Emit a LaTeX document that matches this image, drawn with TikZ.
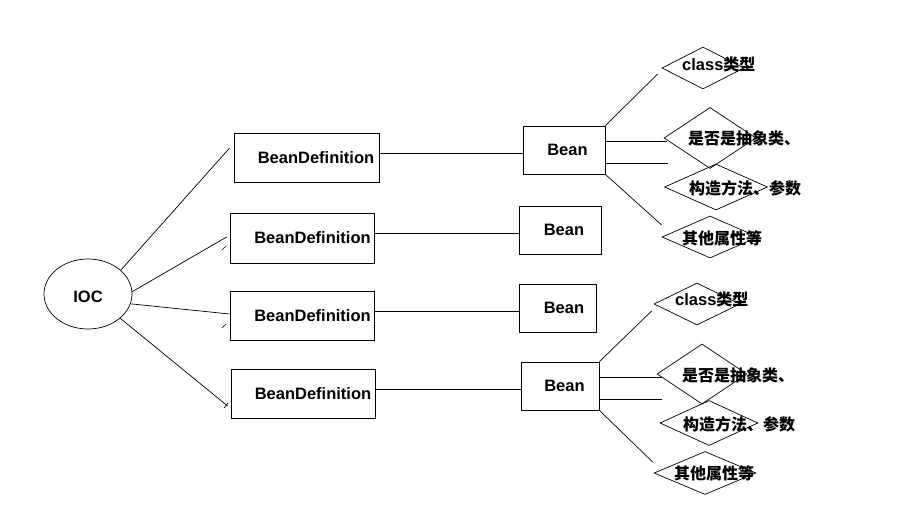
\documentclass[tikz,border=0pt]{standalone}
\usepackage{fontspec}
\setmainfont{Liberation Sans}
\newfontfamily\cjk{Noto Sans CJK SC}
\usetikzlibrary{shapes.geometric}
\begin{document}
\begin{tikzpicture}[x=1pt,y=-1pt,
  ln/.style={line width=0.7pt},
  boxnode/.style={draw,line width=0.8pt,inner sep=0pt,rectangle},
  dia/.style={draw,line width=0.7pt,shape=diamond,inner sep=0pt},
  lat/.style={font=\fontsize{16.5}{18}\selectfont\bfseries,inner sep=0pt},
  zh/.style={font=\fontsize{16}{18}\selectfont\bfseries,inner sep=0pt,anchor=west}]
\useasboundingbox[fill=white] (0,0) rectangle (905,521);
% IOC
\node[draw,ellipse,line width=0.7pt,minimum width=88pt,minimum height=70pt,inner sep=0pt] (ioc) at (88,294) {};
\node[lat] (ioct) at (88,297) {IOC};
% BeanDefinition boxes
\node[boxnode,minimum width=145pt,minimum height=49pt] (bd1) at (306.5,157.5) {};
\node[boxnode,minimum width=144pt,minimum height=50pt] (bd2) at (302,238) {};
\node[boxnode,minimum width=144pt,minimum height=49pt] (bd3) at (302,315.5) {};
\node[boxnode,minimum width=144pt,minimum height=49pt] (bd4) at (303,393.5) {};
\node[lat] (bd1t) at (316,158) {BeanDefinition};
\node[lat] (bd2t) at (312.5,238) {BeanDefinition};
\node[lat] (bd3t) at (312.5,316) {BeanDefinition};
\node[lat] (bd4t) at (313,394) {BeanDefinition};
% Bean boxes
\node[boxnode,minimum width=82pt,minimum height=48pt] (b1) at (564,150) {};
\node[boxnode,minimum width=82pt,minimum height=48pt] (b2) at (560,230) {};
\node[boxnode,minimum width=77pt,minimum height=48pt] (b3) at (557.5,308) {};
\node[boxnode,minimum width=78pt,minimum height=48pt] (b4) at (560,386) {};
\node[lat] (b1t) at (567.5,150) {Bean};
\node[lat] (b2t) at (564,230) {Bean};
\node[lat] (b3t) at (564,308) {Bean};
\node[lat] (b4t) at (564.5,386) {Bean};
% diamonds group 1
\node[dia,minimum width=82pt,minimum height=42pt] (d11) at (703,68) {};
\node[dia,minimum width=92pt,minimum height=61pt] (d12) at (710,138) {};
\node[dia,minimum width=103pt,minimum height=46pt] (d13) at (716,187) {};
\node[dia,minimum width=96pt,minimum height=42pt] (d14) at (710,237) {};
% diamonds group 2
\node[dia,minimum width=86pt,minimum height=42pt] (d21) at (697,304) {};
\node[dia,minimum width=90pt,minimum height=60pt] (d22) at (702,374) {};
\node[dia,minimum width=98pt,minimum height=45pt] (d23) at (709,423) {};
\node[dia,minimum width=102pt,minimum height=43pt] (d24) at (705,473) {};
% diamond texts
\node[zh] (d11t) at (682,64) {\fontsize{16.5}{18}\selectfont class{\cjk\fontsize{16}{18}\selectfont 类型}};
\node[zh] (d12t) at (688,138) {\cjk 是否是抽象类、};
\node[zh] (d13t) at (689,188) {\cjk 构造方法、参数};
\node[zh] (d14t) at (682,238) {\cjk 其他属性等};
\node[zh] (d21t) at (675,299) {\fontsize{16.5}{18}\selectfont class{\cjk\fontsize{16}{18}\selectfont 类型}};
\node[zh] (d22t) at (682,375) {\cjk 是否是抽象类、};
\node[zh] (d23t) at (683,424) {\cjk 构造方法、参数};
\node[zh] (d24t) at (674,473) {\cjk 其他属性等};
% IOC connectors
\draw[ln] (ioc.36) -- ([xshift=-4pt,yshift=9.5pt]bd1.west);
\draw[ln] (ioc.3) -- ([xshift=-3pt,yshift=1pt]bd2.west);
\draw[ln] (ioc.-13) -- ([yshift=1.5pt]bd3.west);
\draw[ln] (ioc.-37) -- ([xshift=-3pt,yshift=-12.5pt]bd4.west);
\coordinate (t2a) at (222,250); \coordinate (t2b) at (226,246);
\coordinate (t3a) at (222,328); \coordinate (t3b) at (226,324);
\coordinate (t4a) at (224,408); \coordinate (t4b) at (228,403);
\draw[ln] (t2a) -- (t2b);
\draw[ln] (t3a) -- (t3b);
\draw[ln] (t4a) -- (t4b);
% BeanDefinition -> Bean
\draw[ln] ([yshift=4.5pt]bd1.east) -- ([yshift=4.5pt]bd1.east -| b1.west);
\draw[ln] ([yshift=5pt]bd2.east) -- ([yshift=5pt]bd2.east -| b2.west);
\draw[ln] ([yshift=4pt]bd3.east) -- ([yshift=4pt]bd3.east -| b3.west);
\draw[ln] ([yshift=4.5pt]bd4.east) -- ([yshift=4.5pt]bd4.east -| b4.west);
% Bean -> diamonds group 1
\draw[ln] (b1.north east) -- ([xshift=-4pt,yshift=-6pt]d11.west);
\draw[ln] ([yshift=9pt]b1.east) -- ++(62,0);
\draw[ln] ([yshift=-13pt]b1.east) -- ++(63,0);
\draw[ln] (b1.south east) -- ([yshift=12pt]d14.west);
% Bean -> diamonds group 2
\draw[ln] (b4.north east) -- ([xshift=-2pt,yshift=-7pt]d21.west);
\draw[ln] ([yshift=9pt]b4.east) -- ++(63,0);
\draw[ln] ([yshift=-13pt]b4.east) -- ++(63,0);
\draw[ln] (b4.south east) -- ([xshift=-1pt,yshift=11pt]d24.west);
\end{tikzpicture}
\end{document}
